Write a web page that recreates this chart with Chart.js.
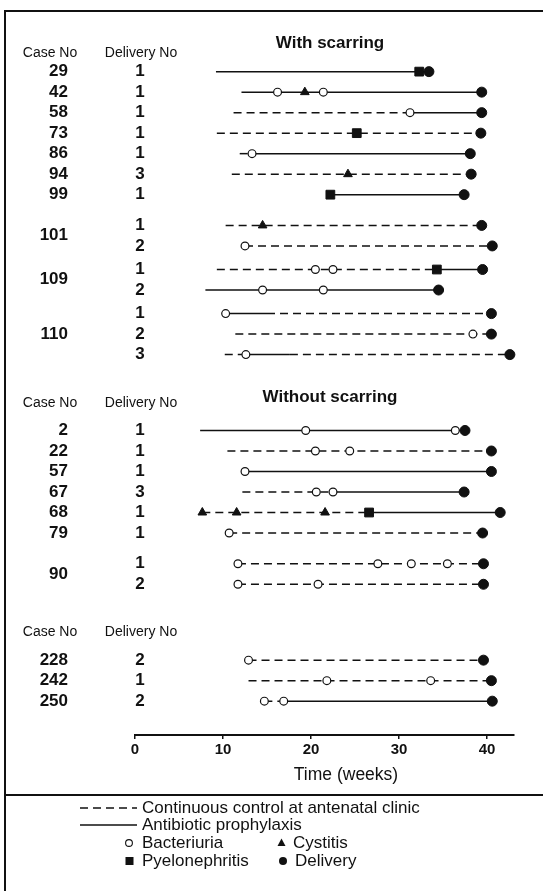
<!DOCTYPE html>
<html>
<head>
<meta charset="utf-8">
<title>Scarring</title>
<script src="https://cdn.jsdelivr.net/npm/chart.js@4.4.1/dist/chart.umd.min.js"></script>
<style>
  html, body { margin: 0; padding: 0; background: #fff; }
  #grafica { display: block; }
</style>
</head>
<body>
<canvas id="grafica" width="543" height="891"></canvas>
<script>
// una fila por parto: caso, numero de parto, bloque
var caseNo = ['29','42','58','73','86','94','99','101','101','109','109','110','110','110',
              '2','22','57','67','68','79','90','90',
              '228','242','250'];
var deliveryNo = ['1','1','1','1','1','3','1','1','2','1','2','1','2','3',
                  '1','1','1','3','1','1','1','2',
                  '2','1','2'];
var sectionOf = [0,0,0,0,0,0,0,0,0,0,0,0,0,0, 1,1,1,1,1,1,1,1, 2,2,2];
var sectionTitles = ['With scarring', 'Without scarring', ''];

// semana del parto por fila
var deliveryWeek = [33.4, 39.4, 39.4, 39.3, 38.1, 38.2, 37.4, 39.4, 40.6, 39.5, 34.5, 40.5, 40.5, 42.6,
                    37.5, 40.5, 40.5, 37.4, 41.5, 39.5, 39.6, 39.6,
                    39.6, 40.5, 40.6];

// tramos [fila, desde, hasta] en semanas
var controlSpans = [
  [2, 11.2, 31.25], [3, 9.3, 39.3], [4, 11.9, 13.3], [5, 11.0, 38.2], [7, 10.3, 39.4],
  [8, 12.5, 40.6], [9, 9.3, 34.3], [11, 15.0, 40.5], [12, 11.4, 40.5], [13, 10.2, 12.6],
  [13, 17.6, 42.6], [15, 10.5, 40.5], [17, 12.2, 22.5], [18, 7.65, 26.6], [19, 10.7, 39.5],
  [20, 11.7, 39.6], [21, 11.7, 39.6], [22, 12.9, 39.6], [23, 12.9, 40.5], [24, 14.7, 16.9]
];
var prophylaxisSpans = [
  [0, 9.2, 33.4], [1, 12.1, 39.4], [2, 31.25, 39.4], [4, 13.3, 38.1], [6, 22.2, 37.4],
  [9, 34.3, 39.5], [10, 8.0, 34.5], [11, 10.3, 15.0], [13, 12.6, 17.6], [14, 7.4, 37.5],
  [16, 12.5, 40.5], [17, 22.5, 37.4], [18, 26.6, 41.5], [24, 16.9, 40.6]
];

// eventos [fila, semana]
var bacteriuria = [
  [1, 16.2], [1, 21.4], [2, 31.25], [4, 13.3], [8, 12.5], [9, 20.5], [9, 22.5], [10, 14.5],
  [10, 21.4], [11, 10.3], [12, 38.4], [13, 12.6], [14, 19.4], [14, 36.4], [15, 20.5], [15, 24.4],
  [16, 12.5], [17, 20.6], [17, 22.5], [19, 10.7], [20, 11.7], [20, 27.6], [20, 31.4], [20, 35.5],
  [21, 11.7], [21, 20.8], [22, 12.9], [23, 21.8], [23, 33.6], [24, 14.7], [24, 16.9]
];
var cystitis = [[1, 19.3], [5, 24.2], [7, 14.5], [18, 7.65], [18, 11.55], [18, 21.6]];
var pyelonephritis = [[0, 32.3], [3, 25.2], [6, 22.2], [9, 34.3], [18, 26.6]];

var xTicks = [0, 10, 20, 30, 40];
var legendTexts = ['Continuous control at antenatal clinic', 'Antibiotic prophylaxis',
                   'Bacteriuria', 'Cystitis', 'Pyelonephritis', 'Delivery'];

var FONT = '"Liberation Sans", Arial, Helvetica, sans-serif';
var INK = '#111';

/**
 * cuantas filas tiene el caso de la fila i
 */
function rowsOfCase(i){
    var n = 0;
    for (var j = 0; j < caseNo.length; j++) {
        if (caseNo[j] === caseNo[i] && sectionOf[j] === sectionOf[i]) n++;
    }
    return n;
}

/**
 * posicion vertical de cada fila (unidades de fila, con huecos entre casos y bloques)
 */
function rowPositions(){
    var pos = [];
    var y = 0;
    for (var i = 0; i < caseNo.length; i++) {
        if (i > 0) {
            y += 1;
            if (sectionOf[i] !== sectionOf[i - 1]) {
                y += 2.7;
            } else if (caseNo[i] !== caseNo[i - 1]) {
                var prevMulti = rowsOfCase(i - 1) > 1;
                var curMulti = rowsOfCase(i) > 1;
                if (!prevMulti && curMulti) y += 0.5;
                else if (prevMulti) y += 0.15;
            }
        }
        pos.push(y);
    }
    return pos;
}

var rowY = rowPositions();

function pts(list){
    return list.map(function(p){ return { x: p[1], y: rowY[p[0]] }; });
}

var datasets = [];
controlSpans.forEach(function(s){
    datasets.push({
        data: [{ x: s[1], y: rowY[s[0]] }, { x: s[2], y: rowY[s[0]] }],
        showLine: true, borderColor: INK, borderWidth: 1.5, borderDash: [8, 5],
        pointRadius: 0, order: 5
    });
});
prophylaxisSpans.forEach(function(s){
    datasets.push({
        data: [{ x: s[1], y: rowY[s[0]] }, { x: s[2], y: rowY[s[0]] }],
        showLine: true, borderColor: INK, borderWidth: 1.5,
        pointRadius: 0, order: 5
    });
});
datasets.push({
    label: 'Bacteriuria', data: pts(bacteriuria), pointStyle: 'circle', pointRadius: 3.9,
    backgroundColor: '#fff', borderColor: INK, borderWidth: 1.2, order: 1
});
datasets.push({
    label: 'Cystitis', data: pts(cystitis), pointStyle: 'triangle', pointRadius: 5,
    backgroundColor: INK, borderColor: INK, borderWidth: 1, order: 1
});
datasets.push({
    label: 'Pyelonephritis', data: pts(pyelonephritis), pointStyle: 'rect', pointRadius: 6.2,
    backgroundColor: INK, borderColor: INK, borderWidth: 1, order: 1
});
datasets.push({
    label: 'Delivery', data: deliveryWeek.map(function(w, i){ return { x: w, y: rowY[i] }; }),
    pointStyle: 'circle', pointRadius: 5, backgroundColor: INK, borderColor: INK, borderWidth: 1, order: 0
});
datasets.forEach(function(d){ d.clip = false; });

// desplazamientos de cabeceras (en filas) respecto a la primera fila del bloque
var headerOffset = [-0.9, -1.35, -1.38];
var titleOffset = [-1.4, -1.6, 0];

var textosPlugin = {
    id: 'textos',
    beforeDraw: function(chart){
        var ctx = chart.ctx;
        ctx.save();
        ctx.fillStyle = '#fff';
        ctx.fillRect(0, 0, chart.width, chart.height);
        ctx.strokeStyle = INK;
        ctx.lineWidth = 2;
        ctx.beginPath();
        ctx.moveTo(5, chart.height); ctx.lineTo(5, 11); ctx.lineTo(chart.width, 11);
        ctx.moveTo(5, 795); ctx.lineTo(chart.width, 795);
        ctx.stroke();
        ctx.restore();
    },
    afterDraw: function(chart){
        var ctx = chart.ctx;
        var ys = chart.scales.y;
        ctx.save();
        ctx.fillStyle = INK;
        ctx.textBaseline = 'middle';

        // cabeceras de bloque
        sectionTitles.forEach(function(t, s){
            var first = sectionOf.indexOf(s);
            var hy = ys.getPixelForValue(rowY[first] + headerOffset[s]);
            ctx.font = '14px ' + FONT;
            ctx.textAlign = 'center';
            ctx.fillText('Case No', 50, hy);
            ctx.fillText('Delivery No', 141, hy);
            if (t) {
                ctx.font = 'bold 17px ' + FONT;
                ctx.fillText(t, 330, ys.getPixelForValue(rowY[first] + titleOffset[s]));
            }
        });

        // numero de caso y de parto
        ctx.font = 'bold 17px ' + FONT;
        for (var i = 0; i < caseNo.length; i++) {
            ctx.textAlign = 'center';
            ctx.fillText(deliveryNo[i], 140, ys.getPixelForValue(rowY[i]));
            if (i === 0 || caseNo[i] !== caseNo[i - 1]) {
                var n = rowsOfCase(i);
                var mid = (rowY[i] + rowY[i + n - 1]) / 2;
                ctx.textAlign = 'right';
                ctx.fillText(caseNo[i], 68, ys.getPixelForValue(mid));
            }
        }

        // titulo del eje
        ctx.font = '17.5px ' + FONT;
        ctx.textAlign = 'center';
        ctx.fillText('Time (weeks)', 346, 775);

        // leyenda
        var ly = [808, 825, 843, 861];
        ctx.font = '17px ' + FONT;
        ctx.textAlign = 'left';
        ctx.strokeStyle = INK;
        ctx.lineWidth = 1.3;
        ctx.setLineDash([8, 5]);
        ctx.beginPath(); ctx.moveTo(80, ly[0]); ctx.lineTo(137, ly[0]); ctx.stroke();
        ctx.setLineDash([]);
        ctx.beginPath(); ctx.moveTo(80, ly[1]); ctx.lineTo(137, ly[1]); ctx.stroke();
        ctx.fillText(legendTexts[0], 142, ly[0]);
        ctx.fillText(legendTexts[1], 142, ly[1]);

        // circulo abierto
        ctx.lineWidth = 1.1;
        ctx.fillStyle = '#fff';
        ctx.beginPath(); ctx.arc(129, ly[2], 3.4, 0, Math.PI * 2); ctx.fill(); ctx.stroke();
        ctx.fillStyle = INK;
        ctx.fillText(legendTexts[2], 142, ly[2]);
        // triangulo
        ctx.beginPath();
        ctx.moveTo(281.5, ly[2] - 4.5); ctx.lineTo(285.5, ly[2] + 3); ctx.lineTo(277.5, ly[2] + 3);
        ctx.closePath(); ctx.fill();
        ctx.fillText(legendTexts[3], 293, ly[2]);
        // cuadrado
        ctx.fillRect(125.5, ly[3] - 4, 8, 8);
        ctx.fillText(legendTexts[4], 142, ly[3]);
        // punto
        ctx.beginPath(); ctx.arc(283, ly[3], 4, 0, Math.PI * 2); ctx.fill();
        ctx.fillText(legendTexts[5], 295, ly[3]);

        ctx.restore();
    }
};

var yMax = rowY[rowY.length - 1] + 1.65;

var ctx = document.getElementById('grafica').getContext('2d');
var myChart = new Chart(ctx, {
    type: 'scatter',
    data: { datasets: datasets },
    options: {
        responsive: false,
        devicePixelRatio: 1,
        animation: false,
        layout: { padding: { left: 135, right: 29.6, top: 30, bottom: 96 } },
        plugins: {
            legend: { display: false },
            tooltip: { enabled: false }
        },
        scales: {
            x: {
                type: 'linear',
                min: 0,
                max: 43,
                afterBuildTicks: function(scale){
                    scale.ticks = xTicks.map(function(v){ return { value: v }; });
                },
                afterFit: function(scale){ scale.height = 60; },
                grid: { display: true, drawOnChartArea: false, drawTicks: true, tickLength: 4, color: INK, lineWidth: 1.5 },
                border: { display: true, color: INK, width: 2 },
                ticks: { color: INK, padding: 2, maxRotation: 0, font: { family: FONT, size: 15, weight: 'bold' } }
            },
            y: {
                type: 'linear',
                display: false,
                reverse: true,
                min: -2.03,
                max: yMax
            }
        }
    },
    plugins: [textosPlugin]
});
</script>
</body>
</html>
